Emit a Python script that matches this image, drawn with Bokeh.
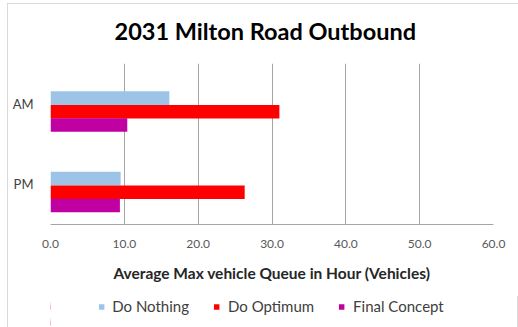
from bokeh.plotting import figure
from bokeh.layouts import column
from bokeh.models import FactorRange, Legend, LegendItem, NumeralTickFormatter, FixedTicker, Title
from bokeh.transform import dodge
from bokeh.embed import file_html
from bokeh.resources import INLINE

periods = ["AM", "PM"]
series = ["Do Nothing", "Do Optimum", "Final Concept"]
do_nothing = [16.1, 9.5]
do_optimum = [31.0, 26.3]
final_concept = [10.4, 9.4]
x_ticks = [0, 10, 20, 30, 40, 50, 60]
colors = ["#9DC3E6", "#FF0000", "#C000A0"]

title = "2031 Milton Road Outbound"
x_title = "Average Max vehicle Queue in Hour (Vehicles)"

FONT = "Lato"
BORDER = "1px solid #D9D9D9"

# ---- main chart ----
p = figure(width=511, height=292, frame_width=441, frame_height=160,
           output_backend="svg", toolbar_location=None,
           y_range=FactorRange(*periods[::-1]), x_range=(0, 60),
           min_border_left=42, min_border_right=28, min_border_top=59, min_border_bottom=73,
           margin=(3, 0, 0, 7))

p.title.text = ""
p.add_layout(Title(text=" ", text_font_size="10px", standoff=6), "above")
p.add_layout(Title(text=title, align="left", offset=64, standoff=0, text_font=FONT,
                   text_font_size="23.5px", text_font_style="bold", text_color="#000000"), "above")

offsets = [0.07, -0.1, -0.265]
values = [do_nothing, do_optimum, final_concept]
for name, vals, off, col in zip(series, values, offsets, colors):
    p.hbar(y=dodge("period", off, range=p.y_range), right="v", left=0, height=0.168,
           source=dict(period=periods, v=vals), fill_color=col, line_color=None)

p.xaxis.ticker = FixedTicker(ticks=x_ticks)
p.xaxis.formatter = NumeralTickFormatter(format="0.0")
p.xaxis.major_tick_line_color = None
p.xaxis.minor_tick_line_color = None
p.xaxis.axis_line_color = "#A6A6A6"
p.xaxis.major_label_text_font = FONT
p.xaxis.major_label_text_font_size = "12px"
p.xaxis.major_label_text_color = "#595959"
p.xaxis.major_label_standoff = 9
p.xaxis.axis_label = x_title
p.xaxis.axis_label_text_font = FONT
p.xaxis.axis_label_text_font_size = "15.5px"
p.xaxis.axis_label_text_font_style = "bold"
p.xaxis.axis_label_text_color = "#262626"
p.xaxis.axis_label_standoff = 13

p.yaxis.axis_line_color = None
p.yaxis.major_tick_line_color = None
p.yaxis.minor_tick_line_color = None
p.yaxis.major_label_text_font = FONT
p.yaxis.major_label_text_font_size = "13px"
p.yaxis.major_label_text_color = "#404040"
p.yaxis.major_label_standoff = 11

p.xgrid.grid_line_color = "#A6A6A6"
p.ygrid.grid_line_color = None
p.outline_line_color = None
p.styles = {"border-left": BORDER, "border-top": BORDER, "border-right": BORDER}

# ---- legend strip (same series, bars kept outside its visible range) ----
lg = figure(width=511, height=32, output_backend="svg", toolbar_location=None,
            y_range=FactorRange(*periods[::-1]), x_range=(1000, 2000),
            x_axis_location=None, y_axis_location=None,
            min_border_left=0, min_border_right=0, min_border_top=0, min_border_bottom=0,
            margin=(0, 0, 0, 7))
lg.title.text = ""
lg.grid.visible = False
lg.outline_line_color = None
items = []
for name, vals, off, col in zip(series, values, offsets, colors):
    r = lg.hbar(y=dodge("period", off, range=lg.y_range), right="v", left=0, height=0.168,
                source=dict(period=periods, v=vals), fill_color=col, line_color=None)
    items.append(LegendItem(label=name, renderers=[r]))

legend = Legend(items=items, orientation="horizontal", location="top_center",
                label_text_font=FONT, label_text_font_size="15px", label_text_color="#404040",
                glyph_width=7, glyph_height=7, label_standoff=8, spacing=24,
                label_height=16,
                border_line_color=None, background_fill_alpha=0, padding=0, margin=1)
lg.add_layout(legend, "center")
lg.styles = {"border-left": BORDER, "border-right": BORDER}

layout = column(p, lg, spacing=0)
open("out.html", "w").write(file_html(layout, INLINE))
